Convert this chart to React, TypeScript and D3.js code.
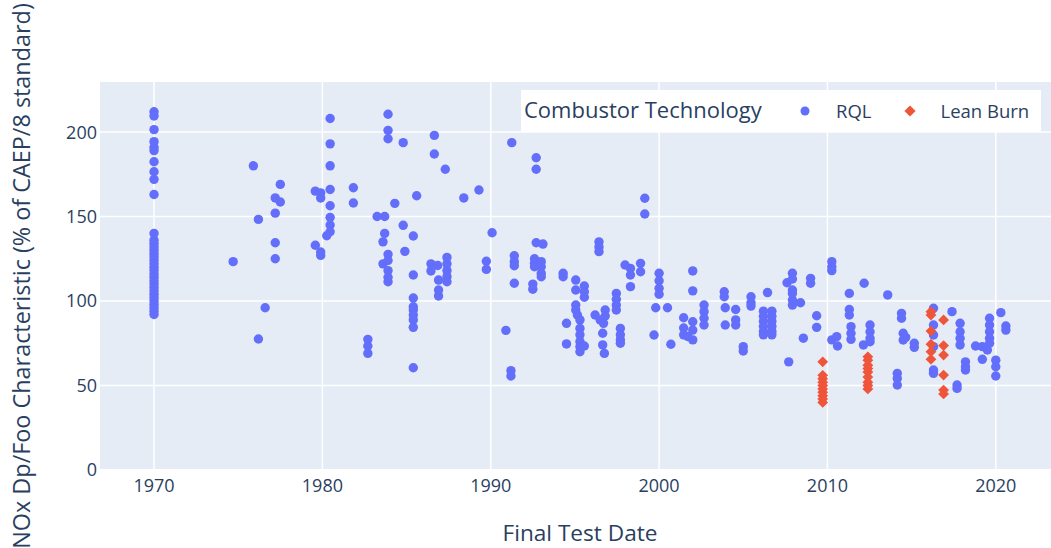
import React from "react";
import * as d3 from "d3";

// ---- Data ----
const xTicks = [1970, 1980, 1990, 2000, 2010, 2020];
const yTicks = [0, 50, 100, 150, 200];
const seriesNames = ["RQL", "Lean Burn"];

// RQL: test year and the values measured at that year
const rqlYears = [
  1970.0, 1974.7, 1975.9, 1976.2, 1976.6, 1977.2, 1977.5, 1979.58, 1979.9, 1980.26,
  1980.46, 1981.84, 1982.7, 1983.25, 1983.7, 1983.6, 1983.9, 1984.3, 1984.8, 1984.9,
  1985.4, 1985.6, 1986.45, 1986.65, 1986.85, 1986.9, 1987.3, 1987.4, 1988.4, 1989.3,
  1989.74, 1990.08, 1990.9, 1991.2, 1991.25, 1991.4, 1992.5, 1992.6, 1992.7, 1993.0,
  1993.1, 1994.3, 1994.5, 1995.05, 1995.15, 1995.3, 1995.56, 1996.2, 1996.43, 1996.5,
  1996.65, 1996.7, 1996.75, 1996.8, 1997.46, 1997.7, 1997.98, 1998.3, 1998.9, 1999.15,
  1999.7, 1999.8, 2000.0, 2000.5, 2000.7, 2001.46, 2001.7, 2002.0, 2002.67, 2003.87,
  2003.93, 2004.55, 2005.0, 2005.46, 2006.2, 2006.44, 2006.7, 2007.6, 2007.7, 2007.92,
  2008.4, 2008.57, 2009.0, 2009.36, 2010.26, 2010.55, 2010.6, 2011.3, 2011.4, 2012.14,
  2012.18, 2012.53, 2013.58, 2014.15, 2014.4, 2014.5, 2014.65, 2015.16, 2016.3, 2017.4,
  2017.7, 2017.88, 2018.2, 2018.8, 2019.2, 2019.5, 2019.63, 2020.0, 2020.3, 2020.6,
];
const rqlValues = [
  [212, 209.5, 201.4, 194.3, 191, 189, 182.4, 176.5, 172, 163, 140, 136, 134, 132, 130, 128, 126, 124, 122, 120, 118, 116, 114, 112, 110, 108, 106, 104, 102, 100, 98, 96, 94, 92],
  [123.3], [180], [148.3, 77.5], [96], [161, 152, 134.5, 125], [169, 158.6], [165, 133],
  [164, 161, 129, 127], [138.6],
  [208, 193, 180, 166, 156.4, 149.5, 145, 141], [167, 158], [77.3, 73.4, 69], [150], [150, 140],
  [135, 122], [210.5, 201, 196, 127.6, 124, 118, 114, 111.4], [157.8], [193.7, 144.8], [129.4],
  [138.5, 115.4, 101.8, 96.6, 94.7, 91.7, 88.8, 84.4, 60.5], [162.3], [122, 117.8], [198, 187], [121],
  [112.4, 106.5, 103], [178], [125.8, 122, 118, 114.4, 111.4], [161], [165.7],
  [123.5, 118.7], [140.4], [82.6], [58.8, 55.6], [193.7], [126.8, 123.3, 120.9, 110.5], [110, 107],
  [125, 122.3, 120.3], [184.8, 178, 134.5], [123.3, 120.3, 116.4, 114.4],
  [133.7], [116.4, 114.4], [86.8, 74.6], [112.4, 106.5, 97.6, 94.7], [91.7], [88.8, 83.8, 80, 76, 73, 70],
  [108.9, 105.5, 102.2, 73.4], [91.7], [135, 132, 129.2], [88.8],
  [80.9, 74], [86.8], [69], [94.7, 91.1], [104.5, 101, 97.6, 94.7], [83.8, 80, 77, 75], [121.3],
  [119.3, 115.4, 108.5], [122.3, 117.3], [160.8, 151.5],
  [79.9], [96], [116.4, 112, 107.5, 104], [96], [74.4], [90.1, 84, 80], [79], [117.8, 106, 87.7, 82.8, 77],
  [97.6, 93.7, 89.8, 85.8], [105.5, 102.5],
  [96, 85.8], [95, 88.8, 85.8], [73, 70.4], [102.5, 99, 97], [94, 91, 88, 85, 82, 80], [105],
  [94, 91, 88, 85, 82, 80], [110.8], [64], [116.4, 113, 106.5, 104.5, 100.6, 97.6],
  [99], [78], [113.4, 110.5], [91.3, 84.4], [123.3, 120.3, 118, 77], [78.9], [73.4], [104.5, 95, 91.7],
  [84.8, 80.9, 77.3], [74],
  [110.5], [85.8, 81.8, 77.9, 75.9], [103.6], [57.2, 54.2, 50.3], [92.7, 89.8], [80.9, 76.9], [78.5],
  [75, 72.6], [95.7, 85.8, 79.9, 73, 59.2, 57.2], [93.7],
  [50.3, 48.3], [86.8, 81.8, 77.9, 74], [64, 61.1, 59.2], [73.4], [73, 65.5], [71],
  [89.8, 85.8, 81.8, 77.9, 75], [65, 61.1, 55.6], [93.1], [85.2, 82.8],
];

// Lean Burn
const leanYears = [2009.72, 2012.4, 2016.15, 2016.9];
const leanValues = [
  [64, 56, 54, 52, 50, 48, 46, 44, 42, 40],
  [67, 65, 62, 60, 58, 55, 52, 50, 48],
  [93.7, 91.7, 82.2, 74.4, 70, 65.5],
  [88.8, 73.6, 68, 56.2, 47.3, 45],
];

// ---- Layout ----
const W = 1051;
const H = 548;
const plot = { left: 100, right: 1051, top: 82, bottom: 470 };
const FONT = "'Open Sans', verdana, arial, sans-serif";
const TEXT = "#2a3f5f";
const BLUE = "#636efa";
const RED = "#EF553B";

function flatten(years: number[], vals: number[][]) {
  const out: { x: number; y: number }[] = [];
  years.forEach((yr, i) => vals[i].forEach((v) => out.push({ x: yr, y: v })));
  return out;
}

const diamond = (cx: number, cy: number, r: number) =>
  `M${cx + r},${cy}L${cx},${cy + r}L${cx - r},${cy}L${cx},${cy - r}Z`;

export default function App() {
  const x = d3.scaleLinear().domain([1966.79, 2023.28]).range([plot.left, plot.right]);
  const y = d3.scaleLinear().domain([0, 229.6]).range([plot.bottom, plot.top]);

  const rql = flatten(rqlYears, rqlValues);
  const lean = flatten(leanYears, leanValues);

  return (
    <svg
      width={W}
      height={H}
      style={{ position: "absolute", left: 0, top: 0, display: "block", background: "#fff" }}
      fontFamily={FONT}
    >
      <defs>
        <clipPath id="plotclip">
          <rect x={plot.left} y={plot.top} width={plot.right - plot.left} height={plot.bottom - plot.top} />
        </clipPath>
      </defs>
      <rect x={plot.left} y={plot.top} width={plot.right - plot.left} height={plot.bottom - plot.top} fill="#E5ECF6" />
      {xTicks.map((t) => (
        <line key={"gx" + t} x1={x(t)} x2={x(t)} y1={plot.top} y2={plot.bottom} stroke="#fff" strokeWidth={1.5} />
      ))}
      {yTicks.map((t) => (
        <line key={"gy" + t} x1={plot.left} x2={plot.right} y1={y(t)} y2={y(t)} stroke="#fff" strokeWidth={t === 0 ? 2 : 1.5} />
      ))}
      {xTicks.map((t) => (
        <text key={"tx" + t} x={x(t)} y={491.5} textAnchor="middle" fontSize={18} fill={TEXT}>
          {t}
        </text>
      ))}
      {yTicks.map((t) => (
        <text key={"ty" + t} x={97} y={y(t)} dy="0.36em" textAnchor="end" fontSize={18} fill={TEXT}>
          {t}
        </text>
      ))}
      <g clipPath="url(#plotclip)">
        {rql.map((p, i) => (
          <circle key={"r" + i} cx={x(p.x)} cy={y(p.y)} r={4.7} fill={BLUE} />
        ))}
        {lean.map((p, i) => (
          <path key={"l" + i} d={diamond(x(p.x), y(p.y), 5.4)} fill={RED} />
        ))}
      </g>
      {/* legend */}
      <rect x={521} y={90} width={520} height={42} fill="#fff" />
      <text x={524} y={110} dy="0.36em" fontSize={22} fill={TEXT}>
        Combustor Technology
      </text>
      <circle cx={805} cy={111} r={4.5} fill={BLUE} />
      <text x={836} y={111} dy="0.36em" fontSize={18.5} fill={TEXT}>
        {seriesNames[0]}
      </text>
      <path d={diamond(910, 111, 5.6)} fill={RED} />
      <text x={940.5} y={111} dy="0.36em" fontSize={18.5} fill={TEXT}>
        {seriesNames[1]}
      </text>
      {/* axis titles */}
      <text x={580} y={541} textAnchor="middle" fontSize={22.6} fill={TEXT}>
        Final Test Date
      </text>
      <text
        transform={`translate(30,${(plot.top + plot.bottom) / 2}) rotate(-90)`}
        textAnchor="middle"
        fontSize={23.4}
        fill={TEXT}
      >
        NOx Dp/Foo Characteristic (% of CAEP/8 standard)
      </text>
    </svg>
  );
}
